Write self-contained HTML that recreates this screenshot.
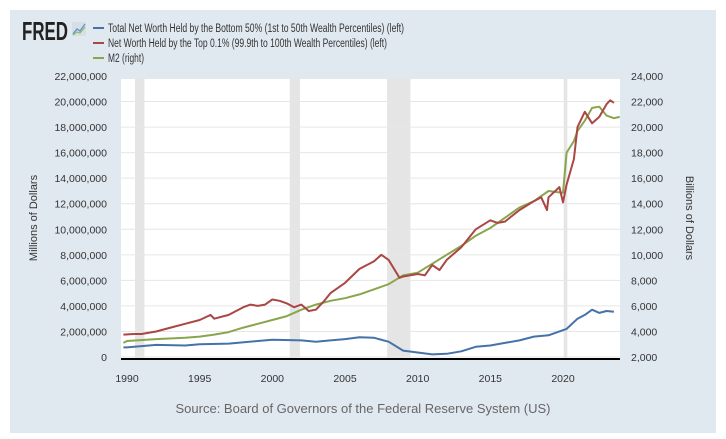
<!DOCTYPE html>
<html><head><meta charset="utf-8"><style>
body{margin:0;background:#fff;font-family:"Liberation Sans",sans-serif;}
svg{display:block}
</style></head><body>
<svg width="726" height="439" viewBox="0 0 726 439">
<rect x="10" y="10" width="706" height="423" fill="#e1e9f0"/>
<g>
<text x="22" y="40" font-size="26" font-weight="bold" fill="#222" textLength="46" lengthAdjust="spacingAndGlyphs">FRED</text>
<rect x="72" y="22" width="14" height="14" fill="#d8dee6"/>
<polyline points="73,34 77,29 80,31 85,24" fill="none" stroke="#6a9ad0" stroke-width="1.5"/>
<polyline points="73,35 77,32 80,33 85,27" fill="none" stroke="#8fbf5a" stroke-width="1.2"/>
</g>
<g font-size="11.5" fill="#333">
<line x1="93" y1="28" x2="104" y2="28" stroke="#4572a7" stroke-width="2"/>
<text x="108" y="32" textLength="296" lengthAdjust="spacingAndGlyphs">Total Net Worth Held by the Bottom 50% (1st to 50th Wealth Percentiles) (left)</text>
<line x1="93" y1="43" x2="104" y2="43" stroke="#aa4643" stroke-width="2"/>
<text x="108" y="47" textLength="279" lengthAdjust="spacingAndGlyphs">Net Worth Held by the Top 0.1% (99.9th to 100th Wealth Percentiles) (left)</text>
<line x1="93" y1="58" x2="104" y2="58" stroke="#89a54e" stroke-width="2"/>
<text x="108" y="62" textLength="36" lengthAdjust="spacingAndGlyphs">M2 (right)</text>
</g>
<rect x="121" y="79" width="499" height="280" fill="#fff"/>
<g id="rec"></g><g id="grid"></g><g id="lines"></g><g id="axes"></g>
<text transform="translate(37,218) rotate(-90)" text-anchor="middle" font-size="11" fill="#333">Millions of Dollars</text>
<text transform="translate(686,218) rotate(90)" text-anchor="middle" font-size="11" fill="#333">Billions of Dollars</text>
<text x="363" y="413" text-anchor="middle" font-size="13" fill="#666">Source: Board of Governors of the Federal Reserve System (US)</text>
</svg>
<script>
const bottomYears=[1989.75,1990,1992,1994,1995,1997,1999,2000,2002,2003,2004,2005,2006,2007,2008,2009,2010,2011,2012,2013,2014,2015,2016,2017,2018,2019,2020,2020.25,2021,2021.5,2022,2022.5,2023,2023.5];
const bottomVals=[0.75,0.75,0.95,0.9,1.0,1.05,1.25,1.35,1.3,1.2,1.3,1.4,1.55,1.5,1.2,0.5,0.35,0.2,0.25,0.45,0.8,0.9,1.1,1.3,1.6,1.7,2.1,2.2,3.0,3.3,3.7,3.45,3.6,3.55];
const topYears=[1989.75,1990.5,1991,1992,1993,1994,1995,1995.75,1996,1997,1998,1998.5,1999,1999.5,2000,2000.5,2001,2001.5,2002,2002.5,2003,2003.5,2004,2005,2006,2007,2007.5,2008,2008.75,2009,2010,2010.5,2011,2011.5,2012,2013,2014,2015,2015.5,2016,2017,2018,2018.5,2018.9,2019,2019.75,2020,2020.25,2020.75,2021,2021.5,2022,2022.5,2023,2023.25,2023.5];
const topVals=[1.75,1.8,1.8,2.0,2.3,2.6,2.9,3.3,3.0,3.3,3.9,4.1,4.0,4.1,4.5,4.4,4.2,3.9,4.1,3.6,3.7,4.3,5.0,5.8,6.9,7.5,8.0,7.6,6.2,6.3,6.5,6.4,7.2,6.8,7.6,8.6,10.0,10.7,10.5,10.6,11.5,12.2,12.5,11.5,12.5,13.3,12.1,13.5,15.5,18.0,19.2,18.3,18.8,19.8,20.1,19.9];
const m2Years=[1989.75,1990,1992,1994,1995,1996,1997,1998,1999,2000,2001,2002,2003,2004,2005,2006,2007,2008,2009,2010,2011,2012,2013,2014,2015,2016,2017,2018,2019,2020,2020.25,2020.75,2021,2021.5,2022,2022.5,2023,2023.5,2023.9];
const m2Vals=[3100,3250,3400,3500,3600,3750,3950,4300,4600,4900,5200,5700,6100,6400,6600,6900,7300,7700,8400,8600,9300,10000,10700,11500,12100,12900,13700,14200,15000,14850,18000,18900,19700,20500,21500,21600,20900,20700,20800];
const leftTicks=[0,2,4,6,8,10,12,14,16,18,20,22];
const leftLabels=["0","2,000,000","4,000,000","6,000,000","8,000,000","10,000,000","12,000,000","14,000,000","16,000,000","18,000,000","20,000,000","22,000,000"];
const rightTicks=[2000,4000,6000,8000,10000,12000,14000,16000,18000,20000,22000,24000];
const rightLabels=["2,000","4,000","6,000","8,000","10,000","12,000","14,000","16,000","18,000","20,000","22,000","24,000"];
const xTicks=[1990,1995,2000,2005,2010,2015,2020];
const recessions=[[1990.55,1991.2],[2001.2,2001.9],[2007.9,2009.5],[2020.05,2020.3]];
const NS="http://www.w3.org/2000/svg";
const X=y=>127+(y-1990)*(436/30);
const YL=v=>357-v*(281/22);
const YR=v=>357-(v-2000)*(281/22000);
function mk(tag,attrs,parent){const e=document.createElementNS(NS,tag);for(const k in attrs)e.setAttribute(k,attrs[k]);parent.appendChild(e);return e;}
const rec=document.getElementById('rec'),grid=document.getElementById('grid'),lines=document.getElementById('lines'),axes=document.getElementById('axes');
recessions.forEach(r=>{const e=mk('rect',{x:X(r[0]),y:79,width:X(r[1])-X(r[0]),height:280,fill:'#e5e5e5'},rec);

});
leftTicks.forEach((t,i)=>{const g=mk('line',{x1:121,x2:620,y1:YL(t),y2:YL(t),stroke:'#e6e6e6','stroke-width':1},grid);


const l=mk('text',{x:107,y:YL(t)+4,'text-anchor':'end','font-size':10.5,fill:'#333'},axes);l.textContent=leftLabels[i];

});
rightTicks.forEach((t,i)=>{const l=mk('text',{x:631,y:YR(t)+4,'font-size':10.5,fill:'#333'},axes);l.textContent=rightLabels[i];

});
xTicks.forEach(t=>{const l=mk('text',{x:X(t),y:382,'text-anchor':'middle','font-size':10.5,fill:'#333'},axes);l.textContent=t;

});
const ax=mk('line',{x1:121,x2:620,y1:359,y2:359,stroke:'#000','stroke-width':2},axes);


function series(xs,vs,fy,color,name){const p=mk('polyline',{points:xs.map((x,i)=>X(x).toFixed(1)+','+fy(vs[i]).toFixed(1)).join(' '),fill:'none',stroke:color,'stroke-width':2,'stroke-linejoin':'round'},lines);

}
series(m2Years,m2Vals,YR,'#89a54e','m2-line');
series(bottomYears,bottomVals,YL,'#4572a7','bottom50-line');
series(topYears,topVals,YL,'#aa4643','top01-line');
</script>
</body></html>
